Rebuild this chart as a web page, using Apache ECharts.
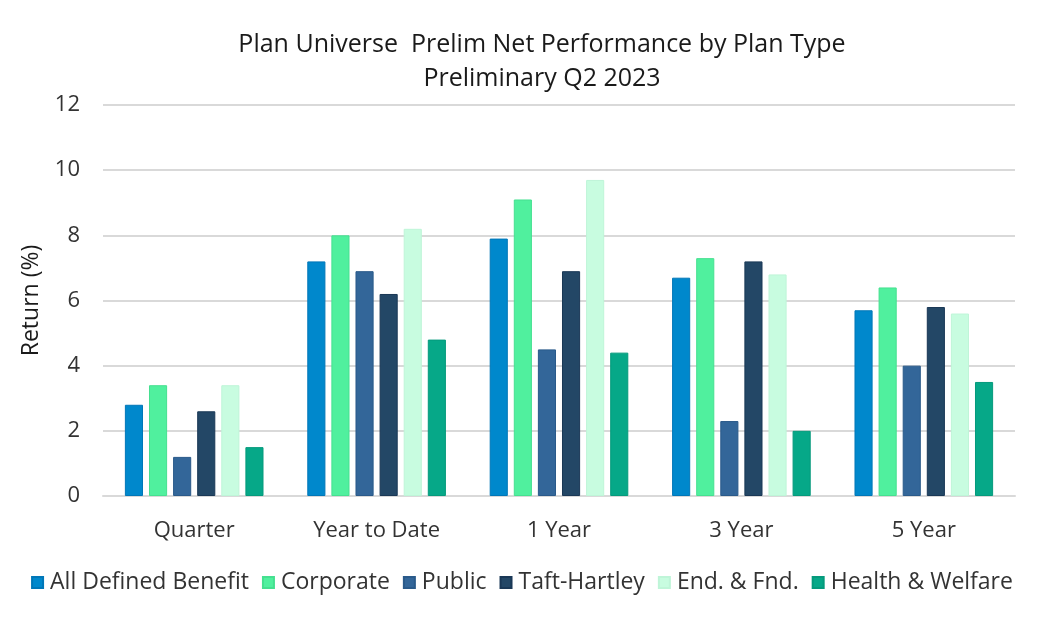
<!DOCTYPE html>
<html><head><meta charset="utf-8">
<script src="https://cdn.jsdelivr.net/npm/echarts@6/dist/echarts.min.js"></script>
<style>html,body{margin:0;padding:0;background:#fff}#c{width:1044px;height:626px}</style>
</head><body><div id="c"></div>
<script>
const categories = ['Quarter', 'Year to Date', '1 Year', '3 Year', '5 Year'];
const seriesNames = ['All Defined Benefit', 'Corporate', 'Public', 'Taft-Hartley', 'End. & Fnd.', 'Health & Welfare'];
const allDefinedBenefit = [2.8, 7.2, 7.9, 6.7, 5.7];
const corporate = [3.4, 8.0, 9.1, 7.3, 6.4];
const publicPlans = [1.2, 6.9, 4.5, 2.3, 4.0];
const taftHartley = [2.6, 6.2, 6.9, 7.2, 5.8];
const endFnd = [3.4, 8.2, 9.7, 6.8, 5.6];
const healthWelfare = [1.5, 4.8, 4.4, 2.0, 3.5];
const colors = ['#0088CC', '#50F09E', '#336699', '#234766', '#C8FCE0', '#06A888'];
const borders = ['#0077B8', '#45E090', '#2A5A8A', '#1A3856', '#BFF5D8', '#059A7C'];
const values = [allDefinedBenefit, corporate, publicPlans, taftHartley, endFnd, healthWelfare];
const font = '"Open Sans", "Noto Sans", sans-serif';

const chart = echarts.init(document.getElementById('c'));
chart.setOption({
  animation: false,
  title: {
    text: 'Plan Universe  Prelim Net Performance by Plan Type\nPreliminary Q2 2023',
    left: 537, top: 23, textAlign: 'center',
    textStyle: { fontFamily: font, fontSize: 25, fontWeight: 'normal', color: '#1a1a1a', lineHeight: 34, align: 'center' }
  },
  legend: {
    top: 566, left: 'center', itemWidth: 11, itemHeight: 11, itemGap: 13,
    icon: 'rect',
    textStyle: { fontFamily: font, fontSize: 23, color: '#333', padding: [0, 0, 0, 2] },
    data: seriesNames
  },
  grid: { left: 103, right: 29, top: 105, bottom: 130 },
  xAxis: {
    type: 'category', data: categories,
    axisLine: { lineStyle: { color: '#d9d9d9', width: 2 } },
    axisTick: { show: false },
    axisLabel: { fontFamily: font, fontSize: 22, color: '#333', margin: 24 }
  },
  yAxis: {
    type: 'value', min: 0, max: 12, interval: 2,
    name: 'Return (%)', nameLocation: 'middle', nameGap: 60,
    nameTextStyle: { fontFamily: font, fontSize: 23, color: '#1a1a1a' },
    axisLabel: { fontFamily: font, fontSize: 22, color: '#333', margin: 23 },
    splitLine: { lineStyle: { color: '#d9d9d9', width: 2 } }
  },
  series: seriesNames.map((n, i) => ({
    name: n, type: 'bar', data: values[i],
    barCategoryGap: '24%', barGap: '33%',
    itemStyle: { color: colors[i], borderColor: borders[i], borderWidth: 1 }
  }))
});
</script></body></html>
